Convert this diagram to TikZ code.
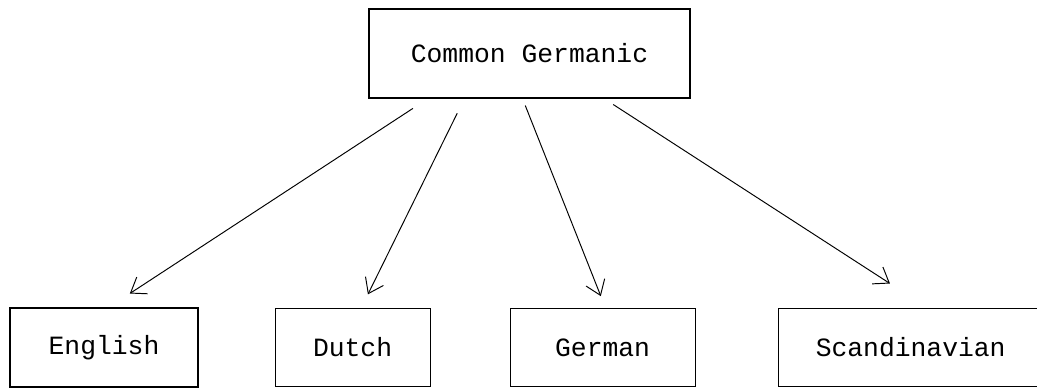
\documentclass[tikz,border=0pt]{standalone}
\usepackage{fontspec}
\setmonofont{Liberation Mono}
\usepackage{tikz}
\usetikzlibrary{arrows.meta,positioning}

\begin{document}
\begin{tikzpicture}[
    lang/.style={rectangle, draw, line width=0.6pt, minimum height=1.55cm, align=center,
        font=\ttfamily\fontsize{15}{18}\selectfont},
    branch/.style={-{Straight Barb[length=0.28cm, width=0.4cm]}, line width=0.55pt}
]
    \useasboundingbox (0,0) rectangle (20.74,-7.78);

    \node[lang, minimum width=6.42cm, minimum height=1.78cm] (common) at (10.59,-1.07) {Common Germanic};

    \node[lang, minimum width=3.76cm, minimum height=1.58cm] (english) at (2.08,-6.95) {English};
    \node[lang, minimum width=3.1cm, right=1.52cm of english] (dutch) {Dutch};
    \node[lang, minimum width=3.7cm, right=1.58cm of dutch] (german) {German};
    \node[lang, minimum width=5.3cm, right=1.64cm of german] (scand) {Scandinavian};

    \draw[branch, shorten <=0.36cm, shorten >=0.51cm] ([xshift=-2.03cm]common.south) -- ([xshift=0.09cm]english.north);
    \draw[branch, shorten <=0.33cm, shorten >=0.31cm] ([xshift=-1.30cm]common.south) -- ([xshift=0.17cm]dutch.north);
    \draw[branch, shorten <=0.15cm, shorten >=0.26cm] ([xshift=-0.14cm]common.south) -- ([xshift=0.06cm]german.north);
    \draw[branch, shorten <=0.22cm, shorten >=0.91cm] ([xshift=1.49cm]common.south) -- ([xshift=0.35cm]scand.north);
\end{tikzpicture}
\end{document}
